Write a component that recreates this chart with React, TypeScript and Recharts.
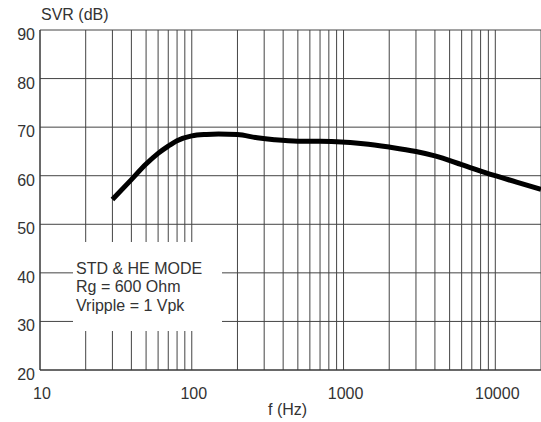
import React from "react";
import { CartesianGrid, Line, LineChart, XAxis, YAxis } from "recharts";

const freq = [30, 40, 50, 60, 70, 80, 100, 125, 150, 200, 270, 350, 500, 700, 900, 1350, 2000, 3000, 4000, 6000, 9700, 13800, 20000];
const svr = [55.1, 59.2, 62.4, 64.6, 66.1, 67.2, 68.2, 68.5, 68.6, 68.5, 67.8, 67.4, 67.1, 67.1, 67.0, 66.6, 65.9, 65.0, 64.1, 62.3, 60.1, 58.7, 57.2];
const xGrid = [10, 20, 30, 40, 50, 60, 70, 80, 90, 100, 200, 300, 400, 500, 600, 700, 800, 900, 1000, 2000, 3000, 4000, 5000, 6000, 7000, 8000, 9000, 10000, 20000];
const xLabels = [10, 100, 1000, 10000];
const yTicks = [20, 30, 40, 50, 60, 70, 80, 90];
const boxLines = ["STD & HE MODE", "Rg = 600 Ohm", "Vripple = 1 Vpk"];

const data = freq.map((f, i) => ({ f, svr: svr[i] }));
const font = "'Liberation Sans', Arial, sans-serif";

function XTick(props: any) {
  const { x, y, payload } = props;
  if (!xLabels.includes(payload.value)) return null;
  return (
    <text x={x + 2} y={y} dy={13} textAnchor="middle" fill="#333" fontSize={16} fontFamily={font}>
      {payload.value}
    </text>
  );
}

function YTick(props: any) {
  const { x, y, payload } = props;
  return (
    <text x={x} y={y} dy={10} textAnchor="end" fill="#333" fontSize={16} fontFamily={font}>
      {payload.value}
    </text>
  );
}

export default function App() {
  return (
    <div style={{ position: "absolute", left: 0, top: 0, width: 541, height: 422, background: "#fff" }}>
      <LineChart width={541} height={422} data={data} margin={{ top: 30, right: 0, left: 0, bottom: 0 }}>
        <CartesianGrid stroke="#444" strokeWidth={1} />
        <XAxis
          dataKey="f"
          type="number"
          scale="log"
          domain={[10, 20000]}
          ticks={xGrid}
          interval={0}
          height={52}
          stroke="#333"
          tickLine={false}
          tickSize={8}
          tickMargin={8}
          tick={<XTick />}
          allowDataOverflow
        />
        <YAxis
          type="number"
          domain={[20, 90]}
          ticks={yTicks}
          interval={0}
          width={40}
          stroke="#333"
          tickLine={false}
          tickSize={0}
          tickMargin={5}
          tick={<YTick />}
        />
        <Line dataKey="svr" stroke="#000" strokeWidth={5} dot={false} isAnimationActive={false} type="monotone" />
      </LineChart>
      <div style={{ position: "absolute", left: 41, top: 6, fontFamily: font, fontSize: 16, color: "#333" }}>SVR (dB)</div>
      <div style={{ position: "absolute", left: 268, top: 401, fontFamily: font, fontSize: 16, color: "#333" }}>f (Hz)</div>
      <div
        style={{
          position: "absolute",
          left: 73,
          top: 242,
          width: 149,
          height: 89,
          background: "#fff",
        }}
      >
        <div style={{ position: "absolute", left: 3, top: 18, fontFamily: font, fontSize: 16, lineHeight: "18.3px", color: "#333", whiteSpace: "nowrap" }}>
          {boxLines.map((t) => (
            <div key={t}>{t}</div>
          ))}
        </div>
      </div>
    </div>
  );
}
